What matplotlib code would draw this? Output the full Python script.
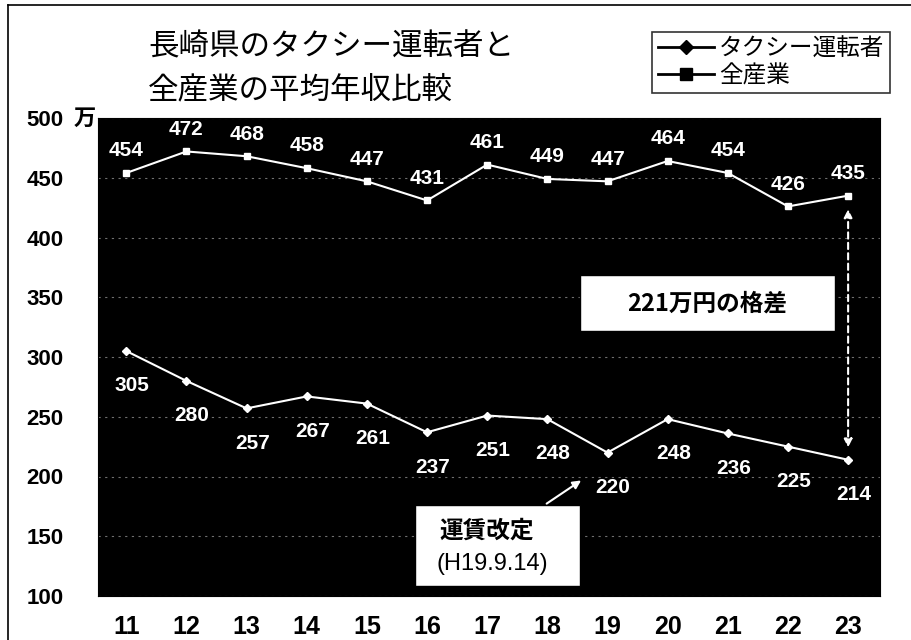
import matplotlib
matplotlib.use("Agg")
import matplotlib.pyplot as plt
from matplotlib.lines import Line2D
from matplotlib.patches import FancyArrowPatch, Rectangle

plt.rcParams['font.family'] = ['Noto Sans CJK JP', 'DejaVu Sans']

years = ['11', '12', '13', '14', '15', '16', '17', '18', '19', '20', '21', '22', '23']
taxi = [305, 280, 257, 267, 261, 237, 251, 248, 220, 248, 236, 225, 214]
all_ind = [454, 472, 468, 458, 447, 431, 461, 449, 447, 464, 454, 426, 435]
yticks = [100, 150, 200, 250, 300, 350, 400, 450, 500]
series_names = ['タクシー運転者', '全産業']
title_text = '長崎県のタクシー運転者と\n全産業の平均年収比較'
gap_text = '221万円の格差'
fare_title = '運賃改定'
fare_date = '(H19.9.14)'

W, H = 911, 640
fig = plt.figure(figsize=(W / 100, H / 100), dpi=100)
fig.patch.set_facecolor('white')

left, right, top, bottom = 98, 880, 118, 596
ax = fig.add_axes([left / W, 1 - bottom / H, (right - left) / W, (bottom - top) / H])
ax.set_facecolor('black')

x = list(range(len(years)))
ax.plot(x, taxi, color='white', lw=1.5, marker='D', ms=4, mfc='white', mec='white', zorder=3)
ax.plot(x, all_ind, color='white', lw=1.5, marker='s', ms=4, mfc='white', mec='white', zorder=3)

lab_font = ['Liberation Sans Narrow', 'Liberation Sans', 'DejaVu Sans']
for i, v in enumerate(all_ind):
    ax.annotate(str(v), (i, v), xytext=(0, 16), textcoords='offset points',
                ha='center', va='center', color='white', fontsize=15,
                fontweight='bold', family=lab_font, zorder=4)
for i, v in enumerate(taxi):
    ax.annotate(str(v), (i, v), xytext=(4, -25), textcoords='offset points',
                ha='center', va='center', color='white', fontsize=15,
                fontweight='bold', family=lab_font, zorder=4)

ax.set_xlim(-0.47, len(years) - 1 + 0.53)
ax.set_ylim(100, 500)
ax.set_yticks(yticks)
ax.set_yticklabels([str(t) for t in yticks], fontsize=16, fontweight='bold',
                   family=['Liberation Sans', 'DejaVu Sans'])
ax.set_xticks(x)
ax.set_xticklabels(years, fontsize=18, fontweight='bold', family=lab_font)
ax.tick_params(axis='y', length=0, pad=25)
ax.tick_params(axis='x', length=0, pad=14)
ax.grid(axis='y', color='#bbbbbb', linestyle=(0, (2, 4)), linewidth=0.8, alpha=0.6)
for s in ax.spines.values():
    s.set_color('black')

ax.text(-0.017, 500, '万', transform=ax.get_yaxis_transform(), ha='center', va='center',
        fontsize=16, fontweight='bold', color='black')

# gap annotation
ax.add_patch(Rectangle((7.55, 322), 4.23, 47, fc='white', ec='black', lw=1, zorder=5))
ax.text(9.66, 345, gap_text, ha='center', va='center', fontsize=17, fontweight='bold',
        color='black', zorder=6)
ax.add_patch(FancyArrowPatch((12, 426), (12, 222), arrowstyle='<|-|>', mutation_scale=12,
                             color='white', lw=1.5, linestyle=(0, (3, 2)), zorder=5))

# fare revision annotation
ax.add_patch(Rectangle((4.8, 108), 2.75, 68, fc='white', ec='black', lw=1, zorder=5))
ax.text(5.2, 155, fare_title, ha='left', va='center', fontsize=17, fontweight='bold',
        color='black', zorder=6)
ax.text(5.15, 127, fare_date, ha='left', va='center', fontsize=17,
        family=['Liberation Sans', 'DejaVu Sans'], color='black', zorder=6)
ax.annotate('', xy=(7.6, 198), xytext=(6.95, 176),
            arrowprops=dict(arrowstyle='-|>', color='white', lw=1.5, mutation_scale=12), zorder=5)

# title
fig.text(148 / W, 1 - 68 / H, title_text, ha='left', va='center', fontsize=22,
         color='black', linespacing=1.5)

# legend
handles = [Line2D([], [], color='black', lw=2, marker='D', ms=7),
           Line2D([], [], color='black', lw=2, marker='s', ms=8)]
leg = fig.legend(handles, series_names, loc='upper right',
                 bbox_to_anchor=(902 / W, 1 - 20 / H), fontsize=17, frameon=True,
                 fancybox=False, edgecolor='black', handlelength=2.4, handletextpad=0.2,
                 borderpad=0.25, labelspacing=0.15)
leg.get_frame().set_linewidth(1.2)

# outer frame lines
fig.add_artist(Line2D([8 / W, 8 / W], [0, 1 - 5 / H], color='black', lw=1.2))
fig.add_artist(Line2D([8 / W, 1], [1 - 5 / H, 1 - 5 / H], color='black', lw=1.2))

fig.savefig('out.png', dpi=100, facecolor='white')
